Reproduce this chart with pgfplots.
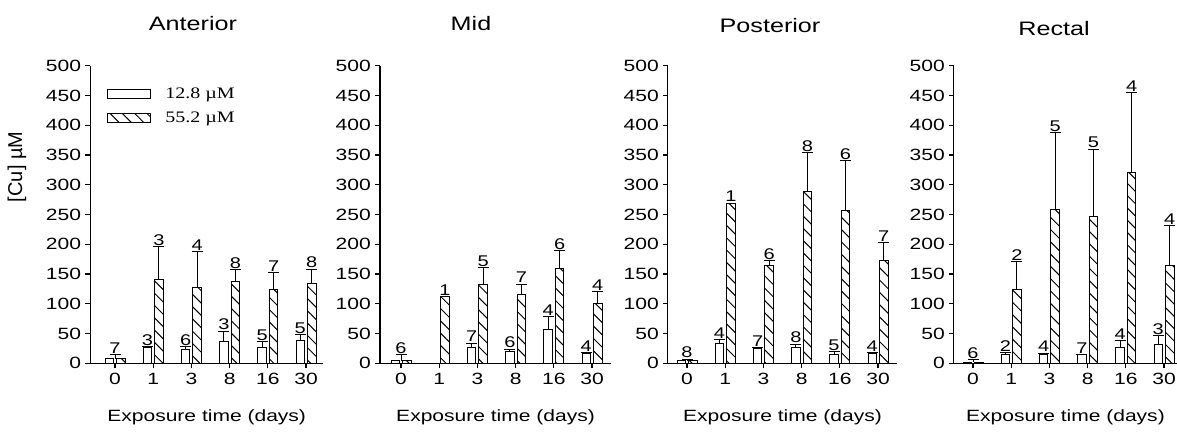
\documentclass[border=0pt]{standalone}
\usepackage{pgfplots}
\pgfplotsset{compat=1.18}
\usepackage{pgfplotstable}
\usetikzlibrary{patterns.meta}
\usepackage{fontspec}
\setmainfont{Liberation Sans}[FakeStretch=1.29]
\newfontfamily\plainsans{Liberation Sans}
\newfontfamily\legserif{Liberation Serif}[FakeStretch=1.25]
\newcommand\tickfont{\fontsize{16.3}{19}\selectfont}
\newcommand\titfont{\fontsize{19.5}{23}\selectfont}
\newcommand\labfont{\fontsize{15.5}{17}\selectfont}
\newcommand\legfont{\legserif\fontsize{16}{19}\selectfont}
\newcommand\ylabfont{\plainsans\fontsize{20}{23}\selectfont}

% ---------- Anterior ----------
\pgfplotstableread{
x y e n
1 27 1 3
2 24 4 6
3 36 18 3
4 27 9 5
5 39 9 5
}\antW
\pgfplotstableread{
x y e n
1 140 56 3
2 128 60 4
3 137 20 8
4 124 29 7
5 134 24 8
}\antH
\pgfplotstableread{
x y e n
0 8 7 7
}\antZ
% ---------- Mid ----------
\pgfplotstableread{
x y e n
2 26 8 7
3 20 3.5 6
4 57 21 4
5 17 1 4
}\midW
\pgfplotstableread{
x y e n
2 133 28 5
3 115 18 7
4 159 30 6
5 101 19 4
}\midH
\pgfplotstableread{
x y n
1 112 1
}\midHs
\pgfplotstableread{
x y e n
0 4.5 9.5 6
}\midZ
% ---------- Posterior ----------
\pgfplotstableread{
x y e n
1 32.5 7.5 4
2 25 1 7
3 26 6 8
4 14 6 5
5 17 1 4
}\posW
\pgfplotstableread{
x y e n
2 164 8 6
3 288 66 8
4 256 84 6
5 172.5 30.5 7
}\posH
\pgfplotstableread{
x y n
1 269 1
}\posHs
\pgfplotstableread{
x y e n
0 4.5 2.5 8
}\posZ
% ---------- Rectal ----------
\pgfplotstableread{
x y e n
1 15 3.5 2
2 15 2 4
3 14 1 7
4 26 12 4
5 32 14.5 3
}\recW
\pgfplotstableread{
x y e n
1 124 47 2
2 258 129 5
3 247 113 5
4 321 134 4
5 165 66 4
}\recH
\pgfplotstableread{
x y e n
0 2 3.6 6
}\recZ

\pgfplotsset{
  panel/.style={
    scale only axis, height=297.6pt,
    ymin=0, ymax=500,
    axis lines=left, axis line style={-, line width=1.1pt, black},
    ybar, bar width=8.5pt,
    xtick={0,...,5}, xticklabels={0,1,3,8,16,30},
    ytick={0,50,...,500},
    tick align=outside, major tick length=5pt,
    tick style={line width=1.1pt, black},
    /pgf/number format/assume math mode=true,
    tick label style={font=\tickfont, inner sep=2pt},
    xticklabel style={yshift=-3pt},
    yticklabel style={xshift=-2pt},
    xlabel={Exposure time (days)},
    every axis x label/.style={at={(axis description cs:0.5,0)}, anchor=center, yshift=-53.5pt, font=\tickfont},
    clip=false,
  },
  wbar/.style={draw=black, line width=1pt, fill=white, bar shift=-5.75pt,
    legend image code/.code={\draw[line width=1pt, fill=white] (0pt,-4.5pt) rectangle (43pt,4.5pt);}},
  hbar/.style={draw=black, line width=1pt, pattern={Lines[angle=-45,distance=8.7pt,line width=1pt]}, bar shift=5.75pt,
    legend image code/.code={\draw[line width=1pt, pattern={Lines[angle=-45,distance=8.7pt,line width=1pt]}] (0pt,-4.5pt) rectangle (43pt,4.5pt);}},
  lab/.style={draw=none, fill=none, forget plot, point meta=explicit symbolic, nodes near coords,
    every node near coord/.append style={font=\labfont, inner sep=1pt, anchor=south, text=black}},
  errb/.style={error bars/.cd, y dir=plus, y explicit,
    error mark options={rotate=90, line width=1pt, mark size=5.5pt, black},
    error bar style={line width=1pt, draw=black}},
}

\begin{document}
\begin{tikzpicture}
\useasboundingbox (0,0) rectangle (1177pt,434pt);
% ===== Anterior =====
\begin{axis}[panel, at={(90.2pt,70.7pt)}, anchor=south west,
  width=233pt, xmin=-0.65, xmax=5.45,
  title={Anterior},
  every axis title/.style={at={(axis description cs:0,1)}, anchor=center, xshift=102.8pt, yshift=42.5pt, font=\titfont},
  ylabel={[Cu] µM},
  every axis y label/.style={at={(axis description cs:-0.314,0.66)}, anchor=center, rotate=90, font=\ylabfont},
  legend style={draw=none, fill=none, at={(axis description cs:0,1)}, anchor=north west,
    xshift=17pt, yshift=-20pt, font=\legfont, row sep=8pt, inner sep=0pt,
    /tikz/every odd column/.append style={column sep=12pt}},
  legend cell align=left]
\addplot[wbar, errb] table[x=x, y=y, y error plus=e] {\antW};
\addplot[hbar, errb] table[x=x, y=y, y error plus=e] {\antH};
\addlegendentry{12.8 µM}
\addlegendentry{55.2 µM}
\addplot[lab, bar shift=-5.75pt] table[x=x, y expr=\thisrow{y}+\thisrow{e}, meta=n] {\antW};
\addplot[lab, bar shift=5.75pt] table[x=x, y expr=\thisrow{y}+\thisrow{e}, meta=n] {\antH};
\addplot[wbar, forget plot] table[x=x, y=y] {\antZ};
\addplot[hbar, forget plot] table[x=x, y=y] {\antZ};
\addplot[draw=none, fill=none, bar shift=0pt, forget plot, errb] table[x=x, y=y, y error plus=e] {\antZ};
\addplot[lab, bar shift=0pt] table[x=x, y expr=\thisrow{y}+\thisrow{e}, meta=n] {\antZ};
\end{axis}
% ===== Mid =====
\begin{axis}[panel, at={(380pt,70.7pt)}, anchor=south west,
  width=231.1pt, xmin=-0.55, xmax=5.5,
  title={Mid},
  every axis title/.style={at={(axis description cs:0,1)}, anchor=center, xshift=91pt, yshift=42.5pt, font=\titfont}]
\addplot[wbar, errb] table[x=x, y=y, y error plus=e] {\midW};
\addplot[hbar, errb] table[x=x, y=y, y error plus=e] {\midH};
\addplot[hbar, forget plot] table[x=x, y=y] {\midHs};
\addplot[lab, bar shift=-5.75pt] table[x=x, y expr=\thisrow{y}+\thisrow{e}, meta=n] {\midW};
\addplot[lab, bar shift=5.75pt] table[x=x, y expr=\thisrow{y}+\thisrow{e}, meta=n] {\midH};
\addplot[lab, bar shift=5.75pt] table[x=x, y=y, meta=n] {\midHs};
\addplot[wbar, forget plot] table[x=x, y=y] {\midZ};
\addplot[hbar, forget plot] table[x=x, y=y] {\midZ};
\addplot[draw=none, fill=none, bar shift=0pt, forget plot, errb] table[x=x, y=y, y error plus=e] {\midZ};
\addplot[lab, bar shift=0pt] table[x=x, y expr=\thisrow{y}+\thisrow{e}, meta=n] {\midZ};
\end{axis}
% ===== Posterior =====
\begin{axis}[panel, at={(667.9pt,70.7pt)}, anchor=south west,
  width=229.2pt, xmin=-0.5, xmax=5.5,
  title={Posterior},
  every axis title/.style={at={(axis description cs:0,1)}, anchor=center, xshift=102.1pt, yshift=40.5pt, font=\titfont}]
\addplot[wbar, errb] table[x=x, y=y, y error plus=e] {\posW};
\addplot[hbar, errb] table[x=x, y=y, y error plus=e] {\posH};
\addplot[hbar, forget plot] table[x=x, y=y] {\posHs};
\addplot[lab, bar shift=-5.75pt] table[x=x, y expr=\thisrow{y}+\thisrow{e}, meta=n] {\posW};
\addplot[lab, bar shift=5.75pt] table[x=x, y expr=\thisrow{y}+\thisrow{e}, meta=n] {\posH};
\addplot[lab, bar shift=5.75pt] table[x=x, y=y, meta=n] {\posHs};
\addplot[wbar, forget plot] table[x=x, y=y] {\posZ};
\addplot[hbar, forget plot] table[x=x, y=y] {\posZ};
\addplot[draw=none, fill=none, bar shift=0pt, forget plot, errb] table[x=x, y=y, y error plus=e] {\posZ};
\addplot[lab, bar shift=0pt] table[x=x, y expr=\thisrow{y}+\thisrow{e}, meta=n] {\posZ};
\end{axis}
% ===== Rectal =====
\begin{axis}[panel, at={(953.9pt,70.7pt)}, anchor=south west,
  width=223.1pt, xmin=-0.5, xmax=5.34,
  title={Rectal},
  every axis title/.style={at={(axis description cs:0,1)}, anchor=center, xshift=100.1pt, yshift=37pt, font=\titfont}]
\addplot[wbar, errb] table[x=x, y=y, y error plus=e] {\recW};
\addplot[hbar, errb] table[x=x, y=y, y error plus=e] {\recH};
\addplot[lab, bar shift=-5.75pt] table[x=x, y expr=\thisrow{y}+\thisrow{e}, meta=n] {\recW};
\addplot[lab, bar shift=5.75pt] table[x=x, y expr=\thisrow{y}+\thisrow{e}, meta=n] {\recH};
\addplot[wbar, forget plot] table[x=x, y=y] {\recZ};
\addplot[hbar, forget plot] table[x=x, y=y] {\recZ};
\addplot[draw=none, fill=none, bar shift=0pt, forget plot, errb] table[x=x, y=y, y error plus=e] {\recZ};
\addplot[lab, bar shift=0pt] table[x=x, y expr=\thisrow{y}+\thisrow{e}, meta=n] {\recZ};
\end{axis}
\end{tikzpicture}
\end{document}
